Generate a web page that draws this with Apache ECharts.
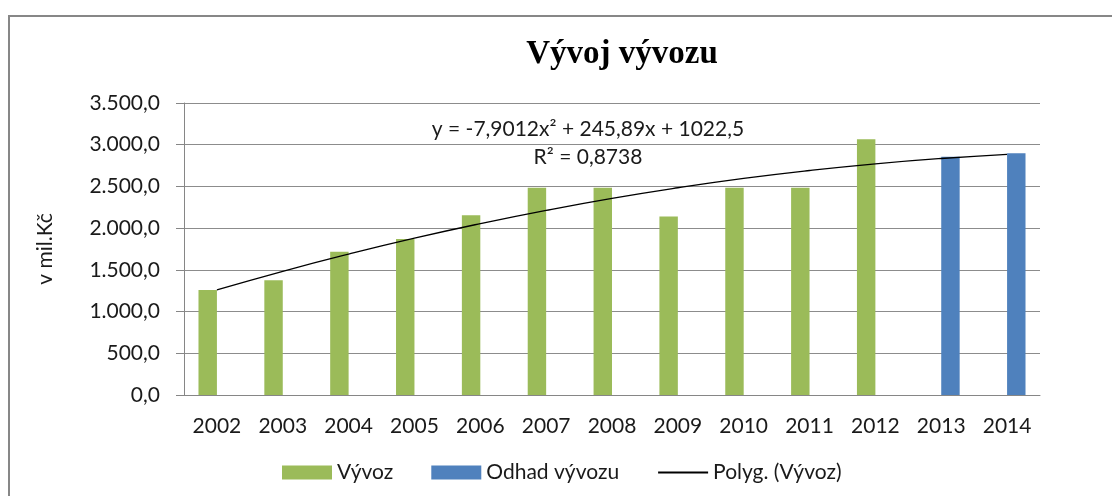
<!DOCTYPE html>
<html>
<head>
<meta charset="utf-8">
<script src="https://cdn.jsdelivr.net/npm/echarts@6/dist/echarts.min.js"></script>
<style>
  html, body { margin: 0; padding: 0; background: #fff; }
  #main { width: 1112px; height: 496px; }
</style>
</head>
<body>
<div id="main"></div>
<script>
// data
var years = ['2002', '2003', '2004', '2005', '2006', '2007', '2008', '2009', '2010', '2011', '2012', '2013', '2014'];
var vyvoz = [1258, 1375, 1718, 1870, 2154, 2485, 2485, 2141, 2485, 2485, 3064, null, null];
var odhad = [null, null, null, null, null, null, null, null, null, null, null, 2857, 2897];
var trend = [1260, 1483, 1689, 1880, 2054, 2213, 2357, 2484, 2596, 2691, 2771, 2835, 2884];
var yTicks = [0, 500, 1000, 1500, 2000, 2500, 3000, 3500];

var font = 'Lato, "Open Sans", sans-serif';
var chart = echarts.init(document.getElementById('main'));

function fmt(v) {
  // 3500 -> 3.500,0
  var s = String(Math.round(v));
  s = s.replace(/\B(?=(\d{3})+(?!\d))/g, '.');
  return s + ',0';
}

var option = {
  animation: false,
  backgroundColor: '#fff',
  graphic: [{
    type: 'rect',
    shape: { x: 9, y: 16, width: 1200, height: 600 },
    style: { fill: 'none', stroke: '#878787', lineWidth: 2 },
    silent: true
  }, {
    type: 'text',
    x: 588, y: 119,
    style: {
      text: 'y = -7,9012x² + 245,89x + 1022,5',
      font: '21px ' + font, fill: '#1a1a1a', align: 'center'
    }
  }, {
    type: 'text',
    x: 588, y: 147,
    style: {
      text: 'R² = 0,8738',
      font: '21px ' + font, fill: '#1a1a1a', align: 'center'
    }
  }],
  title: {
    text: 'Vývoj vývozu',
    left: 617, top: 33,
    textAlign: 'center',
    textStyle: {
      fontFamily: '"Liberation Serif", "DejaVu Serif", serif',
      fontWeight: 'bold', fontSize: 33, color: '#000'
    }
  },
  legend: {
    left: 277, top: 457,
    itemWidth: 50, itemHeight: 14, itemGap: 38,
    textStyle: { fontFamily: font, fontSize: 21, color: '#1a1a1a' },
    data: [
      { name: 'Vývoz', icon: 'rect' },
      { name: 'Odhad vývozu', icon: 'rect' },
      { name: 'Polyg. (Vývoz)', itemStyle: { opacity: 0 } }
    ]
  },
  grid: { left: 184, right: 72, top: 103, bottom: 101 },
  xAxis: {
    type: 'category',
    data: years,
    axisLine: { lineStyle: { color: '#868686' } },
    axisTick: { length: 8, lineStyle: { color: '#868686' } },
    axisLabel: { color: '#1a1a1a', fontFamily: font, fontSize: 21, margin: 21 }
  },
  yAxis: {
    type: 'value',
    min: yTicks[0], max: yTicks[yTicks.length - 1], interval: 500,
    name: 'v mil.Kč',
    nameLocation: 'middle',
    nameGap: 128,
    nameRotate: 90,
    nameTextStyle: { color: '#1a1a1a', fontFamily: font, fontSize: 21 },
    axisLine: { show: true, lineStyle: { color: '#868686' } },
    axisTick: { show: true, length: 8, lineStyle: { color: '#868686' } },
    axisLabel: { color: '#1a1a1a', fontFamily: font, fontSize: 21, margin: 24, formatter: fmt },
    splitLine: { lineStyle: { color: '#8c8c8c' } }
  },
  series: [{
    name: 'Vývoz',
    type: 'bar',
    data: vyvoz,
    barGap: '0%',
    barCategoryGap: '44%',
    itemStyle: { color: '#9bbb59' }
  }, {
    name: 'Odhad vývozu',
    type: 'bar',
    data: odhad,
    itemStyle: { color: '#4f81bd' }
  }, {
    name: 'Polyg. (Vývoz)',
    type: 'line',
    data: trend,
    smooth: true,
    symbol: 'none',
    lineStyle: { color: '#000', width: 1.3 },
    itemStyle: { color: '#000' },
    z: 5
  }]
};
chart.setOption(option);
</script>
</body>
</html>
